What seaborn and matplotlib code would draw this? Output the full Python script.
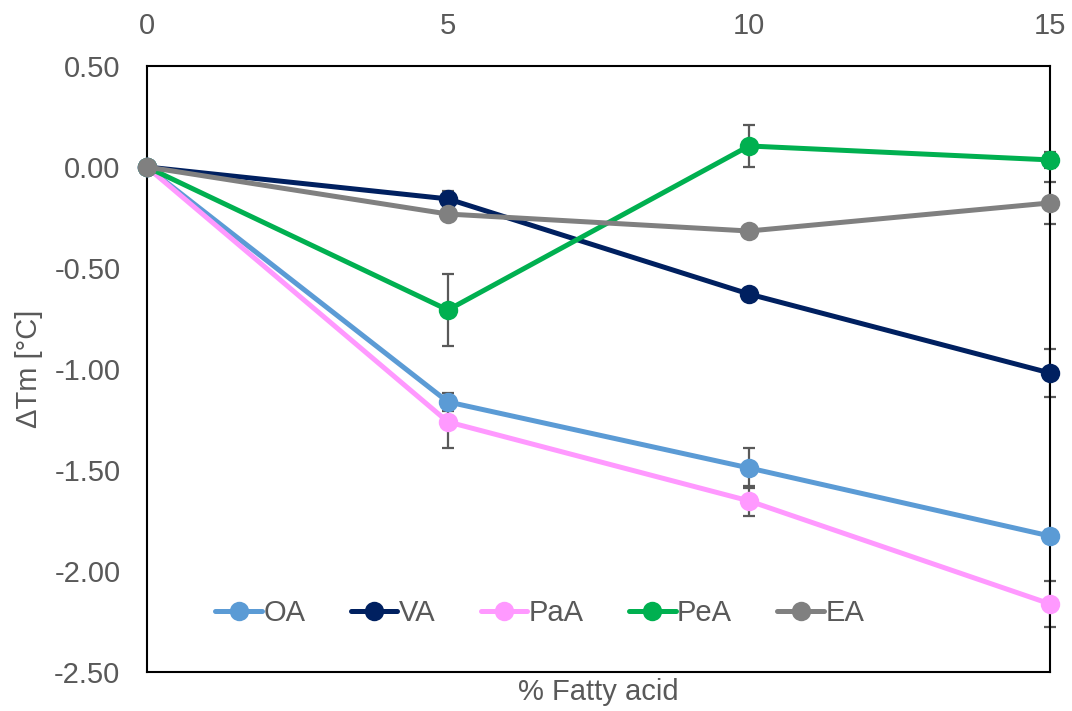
import numpy as np
import pandas as pd
import matplotlib
matplotlib.use("Agg")
import matplotlib.pyplot as plt
import seaborn as sns

x_vals = [0, 5, 10, 15]
series_names = ["OA", "VA", "PaA", "PeA", "EA"]
oa = [0.0, -1.163, -1.49, -1.827]
va = [0.0, -0.158, -0.629, -1.02]
paa = [0.0, -1.262, -1.653, -2.163]
pea = [0.0, -0.708, 0.104, 0.035]
ea = [0.0, -0.233, -0.317, -0.178]
oa_err = [0.0, 0.045, 0.10, 0.03]
va_err = [0.0, 0.04, 0.02, 0.12]
paa_err = [0.0, 0.13, 0.075, 0.115]
pea_err = [0.0, 0.178, 0.105, 0.04]
ea_err = [0.0, 0.03, 0.02, 0.105]
colors = ["#5B9BD5", "#002060", "#FF99FF", "#00B050", "#808080"]

values = [oa, va, paa, pea, ea]
errors = [oa_err, va_err, paa_err, pea_err, ea_err]

rows = []
for name, vals in zip(series_names, values):
    for xv, yv in zip(x_vals, vals):
        rows.append({"x": xv, "y": yv, "series": name})
df = pd.DataFrame(rows)

sns.set_style("white")
plt.rcParams["font.family"] = ["Liberation Sans", "DejaVu Sans"]

FS = 21
fig = plt.figure(figsize=(10.72, 7.11), dpi=100)
ax = fig.add_axes([0.137, 0.0549, 0.8425, 0.8523])

for name, vals, errs, c in zip(series_names, values, errors, colors):
    ax.errorbar(x_vals, vals, yerr=errs, fmt="none", ecolor="#595959",
                elinewidth=1.6, capsize=4, capthick=1.6, zorder=1)

sns.lineplot(data=df, x="x", y="y", hue="series", hue_order=series_names,
             palette=colors, marker="o", markersize=14, markeredgewidth=0,
             linewidth=3.6, ax=ax, zorder=3, legend=True)
for ln in ax.get_lines():
    ln.set_clip_on(False)

ax.set_xlim(0, 15)
ax.set_ylim(-2.5, 0.5)
ax.set_xticks(x_vals)
ax.set_xticklabels([str(v) for v in x_vals])
ax.xaxis.tick_top()
ax.set_yticks(np.arange(-2.5, 0.51, 0.5))
ax.set_yticklabels([f"{v:.2f}" for v in np.arange(-2.5, 0.51, 0.5)])
ax.tick_params(axis="both", length=0, labelsize=FS, colors="#595959")
ax.tick_params(axis="x", pad=19)
ax.tick_params(axis="y", pad=19)
for s in ax.spines.values():
    s.set_color("black")
    s.set_linewidth(1.5)

ax.set_xlabel("% Fatty acid", fontsize=FS, color="#595959", labelpad=4)
ax.set_ylabel("ΔTm [°C]", fontsize=FS, color="#595959", labelpad=8)

leg = ax.legend(loc="center", bbox_to_anchor=(0.435, 0.097), ncol=5,
                frameon=False, fontsize=FS, handlelength=1.6,
                handletextpad=0.05, columnspacing=1.55)
for t in leg.get_texts():
    t.set_color("#595959")

fig.savefig("out.png", dpi=100)
